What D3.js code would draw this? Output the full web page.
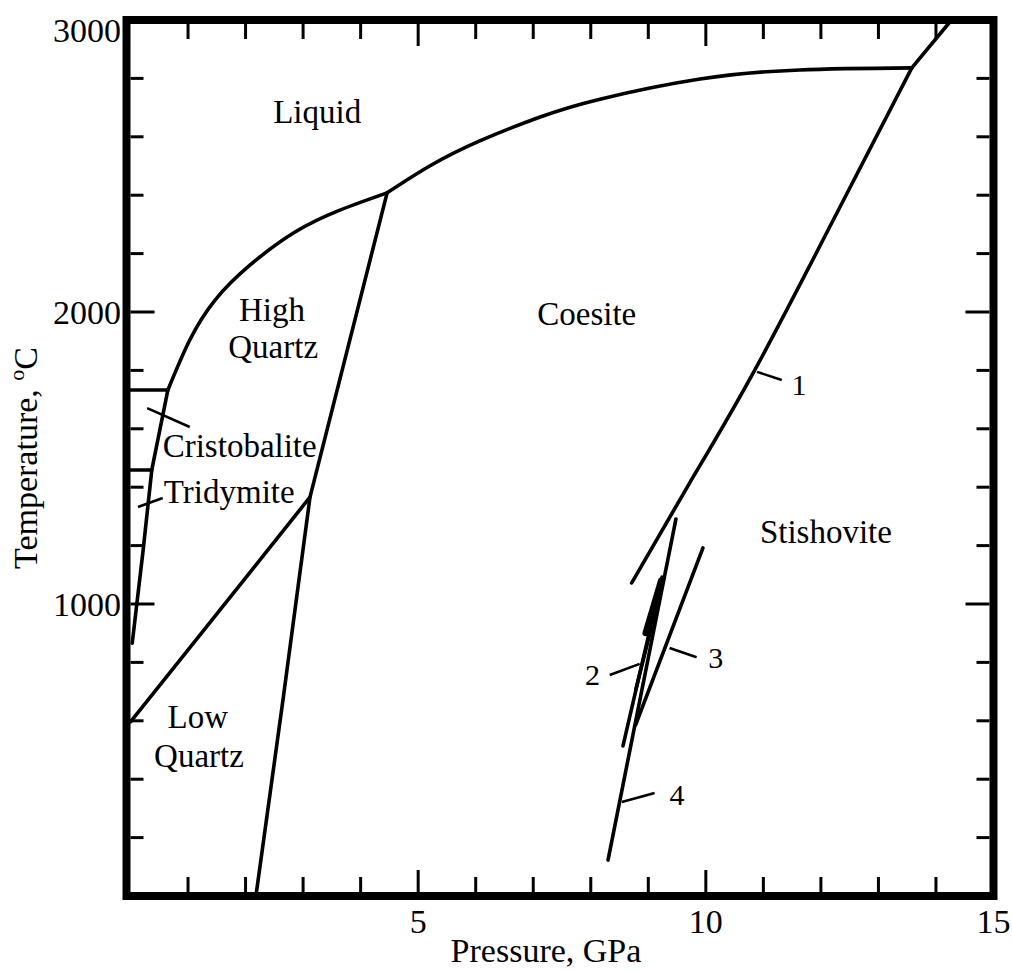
<!DOCTYPE html>
<html><head><meta charset="utf-8">
<script src="https://cdn.jsdelivr.net/npm/d3@7"></script>
<style>body{margin:0;background:#fff}svg{display:block}</style>
</head><body><svg id="c" width="1012" height="971"></svg>
<script>
// ---- data (P in GPa, T in °C) ----
const xMinorTicks = d3.range(0, 16, 1);
const xMajorTicks = [5, 10];
const yMinorTicks = d3.range(0, 3001, 200);
const yMajorTicks = [1000, 2000];
const xTickLabels = [5, 10, 15];
const yTickLabels = [1000, 2000, 3000];

const liquidusQuartz = [[0.65,1733],[1.03,1904],[1.47,2041],[2.08,2161],[2.86,2274],[3.64,2349],[4.46,2408]];
const liquidusCoesite = [[4.46,2408],[5.20,2500],[6.07,2586],[7.12,2668],[8.16,2729],[9.90,2798],[11.63,2829],[13.58,2836]];
const liquidusStishovite = [[13.58,2836],[14.27,3000]];
const cristobaliteMelt = [[0,1733],[0.65,1733]];
const cristobaliteTridymite = [[0,1459],[0.37,1459]];
const quartzTridymite = [[0.65,1733],[0.37,1459],[0.22,1185],[0.03,866]];
const lowHighQuartz = [[0,596],[3.12,1366]];
const quartzCoesite = [[4.46,2408],[3.12,1366],[2.65,671],[2.18,0]];
const curve1 = [[8.71,1072],[9.72,1415],[10.85,1801],[12.28,2340],[13.58,2836]];
const curve2a = [[8.56,514],[9.24,1092]];
const curve2b = [[8.78,705],[9.27,1089]];
const curve2thick = [[8.95,900],[9.22,1080]];
const curve3 = [[8.78,586],[9.95,1192]];
const curve4 = [[8.30,123],[9.48,1291]];

const regionNames = ["Liquid","High","Quartz","Coesite","Cristobalite","Tridymite","Stishovite","Low","Quartz"];
const regionAnchors = [[2.48,2647,"start"],[2.46,1969,"middle"],[2.48,1842,"middle"],[7.93,1955,"middle"],[0.56,1503,"start"],[0.58,1346,"start"],[10.94,1209,"start"],[1.17,575,"middle"],[1.19,442,"middle"]];
const curveNames = ["1","2","3","4"];
const curveLabelAnchors = [[11.49,1716],[7.90,723],[10.04,781],[9.37,312]];
const leaders = [
  [[10.89,1795],[11.32,1767]],
  [[8.33,757],[8.85,795]],
  [[9.37,849],[9.84,818]],
  [[8.54,322],[9.11,353]],
  [[0.29,1671],[1.03,1606]],
  [[0.13,1332],[0.56,1363]]
];

// ---- drawing ----
const svg = d3.select("#c");
const x = d3.scaleLinear().domain([0, 15]).range([130.5, 993.5]);
const y = d3.scaleLinear().domain([0, 3000]).range([896, 20]);
const lineLin = d3.line().x(d => x(d[0])).y(d => y(d[1]));
const lineSmooth = d3.line().x(d => x(d[0])).y(d => y(d[1])).curve(d3.curveNatural);
const serif = "'Liberation Serif','Times New Roman',serif";

// phase boundaries
const g = svg.append("g").attr("fill","none").attr("stroke","#000").attr("stroke-width",3.6)
  .attr("stroke-linejoin","round").attr("stroke-linecap","round");
[liquidusQuartz, liquidusCoesite, curve1].forEach(d => g.append("path").attr("d", lineSmooth(d)));
[liquidusStishovite, cristobaliteMelt, cristobaliteTridymite, quartzTridymite, lowHighQuartz,
 quartzCoesite, curve2a, curve2b, curve3, curve4].forEach(d => g.append("path").attr("d", lineLin(d)));
g.append("path").attr("d", lineLin(curve2thick)).attr("stroke-width",6);

// leaders
const lg = svg.append("g").attr("stroke","#000").attr("stroke-width",2.6).attr("fill","none");
leaders.forEach(d => lg.append("path").attr("d", lineLin(d)));

// frame
svg.append("rect").attr("x", x(0)-4).attr("y", y(3000)).attr("width", x(15)-x(0)+4).attr("height", y(0)-y(3000))
  .attr("fill","none").attr("stroke","#000").attr("stroke-width",8);

// ticks (inward)
const tg = svg.append("g").attr("stroke","#000").attr("stroke-width",3);
xMinorTicks.filter(v => v > 0 && v < 15).forEach(v => {
  const L = xMajorTicks.includes(v) ? 22 : 15;
  tg.append("line").attr("x1",x(v)).attr("x2",x(v)).attr("y1",y(0)-4).attr("y2",y(0)-4-L);
  tg.append("line").attr("x1",x(v)).attr("x2",x(v)).attr("y1",y(3000)+4).attr("y2",y(3000)+4+L);
});
yMinorTicks.filter(v => v > 0 && v < 3000).forEach(v => {
  const L = yMajorTicks.includes(v) ? 24 : 13;
  tg.append("line").attr("x1",x(0)).attr("x2",x(0)+L).attr("y1",y(v)).attr("y2",y(v));
  tg.append("line").attr("x1",x(15)-4).attr("x2",x(15)-4-L).attr("y1",y(v)).attr("y2",y(v));
});

// tick labels
const txt = svg.append("g").attr("font-family", serif).attr("fill","#000");
xTickLabels.forEach(v => txt.append("text").attr("x",x(v)).attr("y",933).attr("text-anchor","middle")
  .attr("font-size",34).text(v));
yTickLabels.forEach(v => txt.append("text").attr("x",121).attr("y",Math.max(y(v),30)).attr("dy","0.35em")
  .attr("text-anchor","end").attr("font-size",34).text(v));

// axis titles
txt.append("text").attr("x",546).attr("y",962).attr("text-anchor","middle").attr("font-size",34).text("Pressure, GPa");
const yt = txt.append("text").attr("transform","translate(37,458) rotate(-90)").attr("text-anchor","middle").attr("font-size",34);
yt.append("tspan").text("Temperature, ");
yt.append("tspan").attr("font-size",22).attr("dy",-13).text("o");
yt.append("tspan").attr("dy",13).text("C");

// region labels
regionNames.forEach((n,i) => txt.append("text").attr("x",x(regionAnchors[i][0])).attr("y",y(regionAnchors[i][1]))
  .attr("text-anchor",regionAnchors[i][2]).attr("font-size",33).text(n));
curveNames.forEach((n,i) => txt.append("text").attr("x",x(curveLabelAnchors[i][0])).attr("y",y(curveLabelAnchors[i][1]))
  .attr("font-size",30).text(n));
</script></body></html>
